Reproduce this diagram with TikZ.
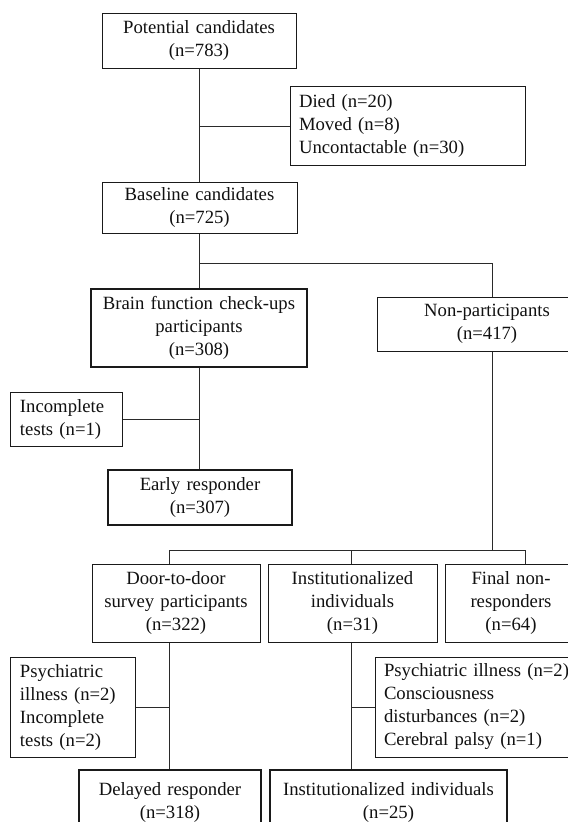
\documentclass[tikz,border=0pt]{standalone}
\usepackage{fontspec}
\setmainfont{Liberation Serif}
\usepackage{xcolor}
\definecolor{boxColor}{HTML}{1A1A1A}
\definecolor{linkColor}{HTML}{2A2A2A}
\definecolor{textColor}{HTML}{111111}
\tikzset{
  box/.style={draw=boxColor, line width=1bp, inner xsep=9bp, inner ysep=0pt,
    align=center, text=textColor, font=\fontsize{18.7bp}{23bp}\selectfont},
  keyBox/.style={box, line width=2.4bp},
  noteBox/.style={box, align=left},
  link/.style={draw=linkColor, line width=1bp}
}

\begin{document}
\begin{tikzpicture}[x=1bp,y=-1bp]

% page
\useasboundingbox (0, 0) rectangle (568, 822);
\fill[white] (0, 0) rectangle (568, 822);
\clip (0, 0) rectangle (568, 822);

% trunks and rows
\coordinate (trunkMain) at (199, 0);
\coordinate (trunkNon) at (492, 0);
\coordinate (trunkDoor) at (169, 0);
\coordinate (trunkInst) at (351, 0);
\coordinate (trunkFinal) at (525, 0);
\coordinate (rowA) at (0, 263);
\coordinate (rowB) at (0, 550);

% box layer
\begin{scope}
\node[box, text width=176bp, minimum height=54bp] (potential) at (199, 41)
  {Potential candidates\\(n=783)};
\node[noteBox, text width=217bp, minimum height=78bp] (lost) at (407.5, 126)
  {Died (n=20)\\Moved (n=8)\\Uncontactable (n=30)};
\node[box, text width=177bp, minimum height=51bp] (baseline) at (199.5, 207.5)
  {Baseline candidates\\(n=725)};
\node[keyBox, text width=198bp, minimum height=78bp] (brainCheck) at (199, 328)
  {Brain function check-ups\\participants\\(n=308)};
\node[box, text width=202bp, minimum height=54bp] (nonPart) at (487, 324)
  {Non-participants\\(n=417)};
\node[noteBox, text width=93bp, minimum height=54bp] (incompleteA) at (66.5, 419)
  {Incomplete\\tests (n=1)};
\node[keyBox, text width=166bp, minimum height=55bp] (early) at (200, 497.5)
  {Early responder\\(n=307)};
\node[box, text width=150bp, minimum height=78bp] (door) at (176, 603)
  {Door-to-door\\survey participants\\(n=322)};
\node[box, text width=151bp, minimum height=78bp] (inst) at (352.5, 603)
  {Institutionalized\\individuals\\(n=31)};
\node[box, text width=114bp, minimum height=78bp] (final) at (511, 603)
  {Final non-\\responders\\(n=64)};
\node[noteBox, text width=106bp, minimum height=100bp] (excludeA) at (73, 707)
  {Psychiatric\\illness (n=2)\\Incomplete\\tests (n=2)};
\node[noteBox, text width=197bp, minimum height=100bp] (excludeB) at (482.5, 707)
  {Psychiatric illness (n=2)\\Consciousness\\disturbances (n=2)\\Cerebral palsy (n=1)};
\node[keyBox, text width=164bp, minimum height=64bp] (delayed) at (170, 802)
  {Delayed responder\\(n=318)};
\node[keyBox, text width=219bp, minimum height=64bp] (instFinal) at (388.5, 802)
  {Institutionalized individuals\\(n=25)};
\end{scope}

% link layer
\begin{scope}
\draw[link] (potential.south -| trunkMain) -- (baseline.north -| trunkMain);
\draw[link] (lost.west) -- (lost.west -| trunkMain);
\draw[link] (baseline.south -| trunkMain) -- (brainCheck.north -| trunkMain);
\draw[link] (rowA -| trunkMain) -| (nonPart.north -| trunkNon);
\draw[link] (brainCheck.south -| trunkMain) -- (early.north -| trunkMain);
\draw[link] (incompleteA.east) -- (incompleteA.east -| trunkMain);
\draw[link] (nonPart.south -| trunkNon) -- (rowB -| trunkNon);
\draw[link] (door.north -| trunkDoor) |- (rowB -| trunkFinal)
  -- (final.north -| trunkFinal);
\draw[link] (inst.north -| trunkInst) -- (rowB -| trunkInst);
\draw[link] (door.south -| trunkDoor) -- (delayed.north -| trunkDoor);
\draw[link] (excludeA.east) -- (excludeA.east -| trunkDoor);
\draw[link] (inst.south -| trunkInst) -- (instFinal.north -| trunkInst);
\draw[link] (excludeB.west) -- (excludeB.west -| trunkInst);
\end{scope}

\end{tikzpicture}
\end{document}
